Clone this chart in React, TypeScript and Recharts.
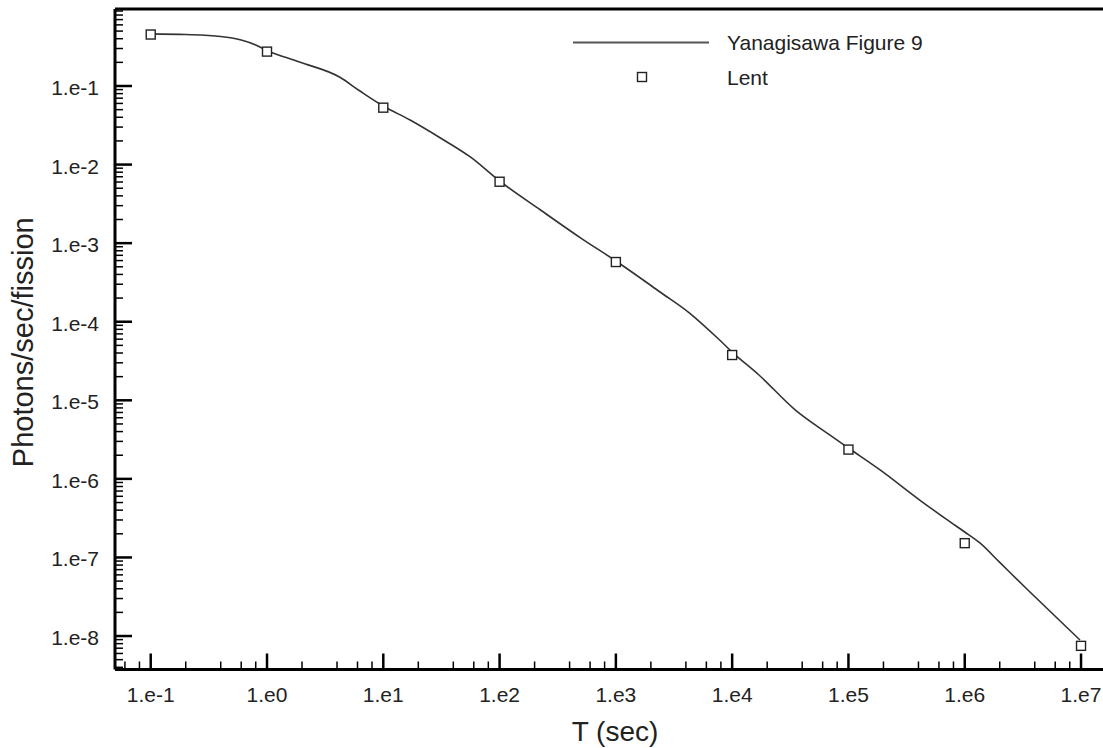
import { ComposedChart, Line, XAxis, YAxis, Legend, ReferenceLine } from "recharts";

// Yanagisawa Figure 9 curve
const curveT = [0.1, 0.2, 0.4, 0.6, 0.8, 1, 1.9, 4.2, 6.3, 10, 17, 31, 56, 100, 225, 500, 1000, 2400, 4300, 7800, 1.0e4, 1.7e4, 3.5e4, 6.9e4, 1.0e5, 1.87e5, 4.1e5, 7.5e5, 1.0e6, 1.35e6, 2.0e6, 3.6e6, 9.8e6];
const curveV = [0.461, 0.452, 0.427, 0.385, 0.333, 0.283, 0.202, 0.13, 0.0863, 0.0556, 0.0369, 0.0218, 0.0125, 0.00618, 0.00264, 0.00116, 5.93e-4, 2.39e-4, 1.29e-4, 5.85e-5, 4.11e-5, 2.1e-5, 7.5e-6, 3.63e-6, 2.47e-6, 1.3e-6, 5.38e-7, 2.83e-7, 2.11e-7, 1.53e-7, 8.65e-8, 3.69e-8, 8.9e-9];

// Lent points
const lentT = [0.1, 1, 10, 100, 1000, 1e4, 1e5, 1e6, 1e7];
const lentV = [0.452, 0.274, 0.053, 0.00605, 5.75e-4, 3.77e-5, 2.36e-6, 1.52e-7, 7.5e-9];

const xDomain = [0.0493, 1.545e7];
const yDomain = [3.75e-9, 0.955];

const xMajors = [0.1, 1, 10, 100, 1000, 1e4, 1e5, 1e6, 1e7];
const xMinorSteps = [2, 4, 6, 8];
const yMajors = [1e-8, 1e-7, 1e-6, 1e-5, 1e-4, 1e-3, 1e-2, 1e-1];
const yMinorSteps = [2, 3, 4, 5, 6, 7, 8, 9];

const FONT = '"Liberation Sans", Arial, Helvetica, sans-serif';
const TEXT = "#222";

function buildTicks(majors: number[], steps: number[], domain: number[]) {
  const out: number[] = [...majors];
  for (let k = -10; k <= 8; k++) {
    for (const s of steps) {
      const v = Number((s * Math.pow(10, k)).toPrecision(6));
      if (v >= domain[0] && v <= domain[1]) out.push(v);
    }
  }
  return out.sort((a, b) => a - b);
}

const xTicks = buildTicks(xMajors, xMinorSteps, xDomain);
const yTicks = buildTicks(yMajors, yMinorSteps, yDomain);

const curveData = curveT.map((t, i) => ({ t, v: curveV[i] }));
const lentData = lentT.map((t, i) => ({ t, v: lentV[i] }));

function isDecade(v: number) {
  const l = Math.log10(v);
  return Math.abs(l - Math.round(l)) < 1e-6;
}

function decadeLabel(v: number) {
  return `1.e${Math.round(Math.log10(v))}`;
}

function XTick(props: any) {
  const { x, y, payload } = props;
  const major = isDecade(payload.value);
  return (
    <g>
      <path d={`M${x},${y}V${y - (major ? 16 : 8)}`} stroke="#000" strokeWidth={major ? 2.5 : 1.5} />
      {major && (
        <text x={x} y={y + 32} textAnchor="middle" fontSize={21} fontFamily={FONT} fill={TEXT}>
          {decadeLabel(payload.value)}
        </text>
      )}
    </g>
  );
}

function YTick(props: any) {
  const { x, y, payload } = props;
  const major = isDecade(payload.value);
  return (
    <g>
      <path d={`M${x},${y}H${x + (major ? 17 : 8)}`} stroke="#000" strokeWidth={major ? 2.5 : 1.5} />
      {major && (
        <text x={x - 16} y={y + 9} textAnchor="end" fontSize={21} fontFamily={FONT} fill={TEXT}>
          {decadeLabel(payload.value)}
        </text>
      )}
    </g>
  );
}

function SquareDot(props: any) {
  const { cx, cy, index } = props;
  if (cx == null || cy == null) return null;
  return <rect key={`sq-${index}`} x={cx - 4.5} y={cy - 4.5} width={9} height={9} fill="#fff" stroke="#222" strokeWidth={1.4} />;
}

function ChartLegend() {
  return (
    <svg width={1103} height={100} style={{ display: "block" }}>
      <line x1={573} x2={709} y1={42.5} y2={42.5} stroke="#555" strokeWidth={2} />
      <text x={727} y={50} fontSize={21} fontFamily={FONT} fill={TEXT}>Yanagisawa Figure 9</text>
      <rect x={637.5} y={72.5} width={9} height={9} fill="#fff" stroke="#222" strokeWidth={1.4} />
      <text x={727} y={85} fontSize={21} fontFamily={FONT} fill={TEXT}>Lent</text>
    </svg>
  );
}

export default function App() {
  return (
    <div style={{ position: "absolute", left: 0, top: 0, width: 1103, height: 748, background: "#fff", overflow: "hidden" }}>
      <ComposedChart width={1103} height={748} margin={{ top: 9, right: 0, bottom: 0, left: 0 }}>
        <XAxis
          dataKey="t"
          type="number"
          scale="log"
          domain={xDomain}
          allowDataOverflow
          ticks={xTicks}
          interval={0}
          height={78.5}
          tickSize={0}
          tickMargin={0}
          tickLine={false}
          tick={<XTick />}
          axisLine={{ stroke: "#000", strokeWidth: 3 }}
          label={({ viewBox }: any) => (
            <text
              x={viewBox.x + viewBox.width / 2 + 6}
              y={viewBox.y + 71}
              textAnchor="middle"
              fontSize={28}
              fontFamily={FONT}
              fill={TEXT}
            >
              T (sec)
            </text>
          )}
        />
        <YAxis
          dataKey="v"
          type="number"
          scale="log"
          domain={yDomain}
          allowDataOverflow
          ticks={yTicks}
          interval={0}
          minTickGap={0}
          width={115}
          tickSize={0}
          tickMargin={0}
          tickLine={false}
          tick={<YTick />}
          axisLine={{ stroke: "#000", strokeWidth: 3 }}
          label={({ viewBox }: any) => {
            const cx = 23;
            const cy = viewBox.y + viewBox.height / 2 + 3;
            return (
              <text
                x={cx}
                y={cy}
                transform={`rotate(-90 ${cx} ${cy})`}
                textAnchor="middle"
                dominantBaseline="central"
                fontSize={29}
                fontFamily={FONT}
                fill={TEXT}
              >
                Photons/sec/fission
              </text>
            );
          }}
        />
        <ReferenceLine y={yDomain[1]} stroke="#000" strokeWidth={3} ifOverflow="visible" />
        <Legend
          layout="vertical"
          align="center"
          verticalAlign="middle"
          wrapperStyle={{ left: 0, top: 0, width: 1103, height: 100 }}
          content={() => <ChartLegend />}
        />
        <Line
          data={curveData}
          dataKey="v"
          type="monotone"
          stroke="#333"
          strokeWidth={1.6}
          dot={false}
          activeDot={false}
          isAnimationActive={false}
          name="Yanagisawa Figure 9"
        />
        <Line
          data={lentData}
          dataKey="v"
          stroke="none"
          dot={<SquareDot />}
          activeDot={false}
          isAnimationActive={false}
          name="Lent"
        />
      </ComposedChart>
    </div>
  );
}
